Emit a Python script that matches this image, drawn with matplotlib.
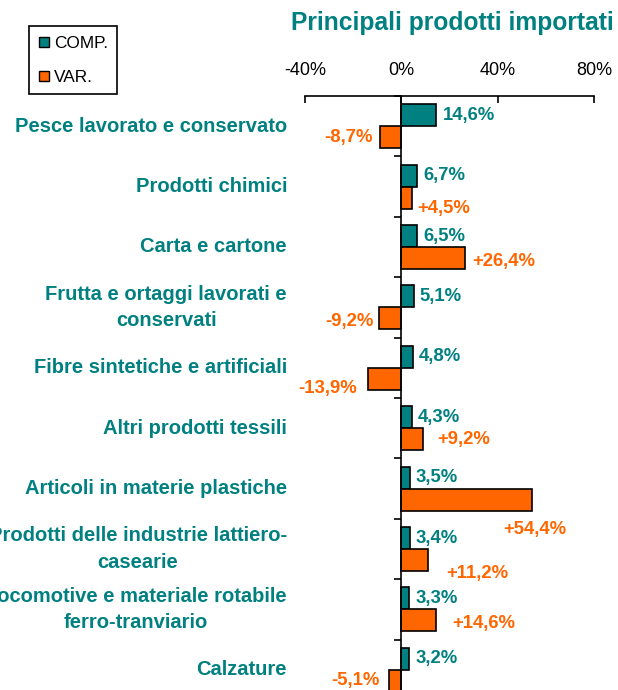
import matplotlib
matplotlib.use("Agg")
import matplotlib.pyplot as plt
import matplotlib.transforms as mtransforms
from matplotlib.lines import Line2D

plt.rcParams['font.family'] = ['Liberation Sans', 'DejaVu Sans']

TEAL = '#008080'
ORANGE = '#FF6600'

categories = [
    'Pesce lavorato e conservato',
    'Prodotti chimici',
    'Carta e cartone',
    'Frutta e ortaggi lavorati e\nconservati',
    'Fibre sintetiche e artificiali',
    'Altri prodotti tessili',
    'Articoli in materie plastiche',
    'Prodotti delle industrie lattiero-\ncasearie',
    'Locomotive e materiale rotabile\nferro-tranviario',
    'Calzature',
]
comp = [14.6, 6.7, 6.5, 5.1, 4.8, 4.3, 3.5, 3.4, 3.3, 3.2]
var = [-8.7, 4.5, 26.4, -9.2, -13.9, 9.2, 54.4, 11.2, 14.6, -5.1]
x_ticks = [-40, 0, 40, 80]

# label nudges in pixels (dx, dy), as placed in the original chart
var_offsets = [(-8, 0), (5, -11), (7, -4), (-6, -3), (-11, -10),
               (14, 0), (2, -30), (18, -14), (16, -3), (-9, 0)]


def fmt(v, sign=False):
    s = f"{abs(v):.1f}".replace('.', ',') + '%'
    if v < 0:
        return '-' + s
    return ('+' + s) if sign else s


W, H = 618, 690
fig = plt.figure(figsize=(W / 100, H / 100), dpi=100)
ax = fig.add_axes([305 / W, -10 / H, 289 / W, 604 / H])

n = len(categories)
ypos = list(range(n))
h = 0.364
ax.barh([y - h / 2 for y in ypos], comp, height=h, color=TEAL,
        edgecolor='black', linewidth=1.2, zorder=3)
ax.barh([y + h / 2 for y in ypos], var, height=h, color=ORANGE,
        edgecolor='black', linewidth=1.2, zorder=3)

ax.set_xlim(-40, 80)
ax.set_ylim(n - 0.5, -0.5)

# axes: top line with ticks, vertical zero line
ax.xaxis.tick_top()
ax.set_xticks(x_ticks)
ax.set_xticklabels([f"{t}%" for t in x_ticks], fontsize=13)
ax.tick_params(axis='x', direction='in', length=5, width=1.2, pad=12.5)
ax.spines['bottom'].set_visible(False)
ax.spines['right'].set_visible(False)
ax.spines['top'].set_linewidth(1.2)
ax.spines['left'].set_position(('data', 0))
ax.spines['left'].set_linewidth(1.2)
ax.spines['left'].set_zorder(4)
ax.set_yticks([y + 0.5 for y in ypos[:-1]] + [-0.5])
ax.set_yticklabels([])
ax.tick_params(axis='y', direction='out', length=5, width=1.2)

# category labels
trans = mtransforms.blended_transform_factory(fig.transFigure, ax.transData)
for y, lab in zip(ypos, categories):
    ax.text(287 / W, y, lab, transform=trans, ha='right', va='center',
            multialignment='center', fontsize=14.5, fontweight='bold',
            color=TEAL, linespacing=1.5)

# value labels
for y, c in zip(ypos, comp):
    ax.annotate(fmt(c), (c, y - h / 2), xytext=(6, 0),
                textcoords='offset pixels', ha='left', va='center',
                fontsize=13.3, fontweight='bold', color=TEAL)
for y, v, (dx, dy) in zip(ypos, var, var_offsets):
    if v < 0:
        ha = 'right'
    elif dy <= -25:
        ha = 'center'
    else:
        ha = 'left'
    ax.annotate(fmt(v, sign=True), (v, y + h / 2), xytext=(dx, dy),
                textcoords='offset pixels', ha=ha, va='center',
                fontsize=13.3, fontweight='bold', color=ORANGE)

fig.text(452 / W, 1 - 23 / H, 'Principali prodotti importati', ha='center',
         va='center', fontsize=17.7, fontweight='bold', color=TEAL)

handles = [
    Line2D([], [], marker='s', linestyle='none', markersize=7,
           markerfacecolor=TEAL, markeredgecolor='black'),
    Line2D([], [], marker='s', linestyle='none', markersize=7,
           markerfacecolor=ORANGE, markeredgecolor='black'),
]
leg = fig.legend(handles, ['COMP.', 'VAR.'], loc='upper left',
                 bbox_to_anchor=(29 / W, 1 - 26 / H), fontsize=12.4,
                 frameon=True, fancybox=False, framealpha=1,
                 edgecolor='black', handlelength=0.6, handletextpad=0.3,
                 labelspacing=1.1, borderpad=0.55, borderaxespad=0)
leg.get_frame().set_linewidth(1.2)

fig.savefig('out.png', dpi=100)
